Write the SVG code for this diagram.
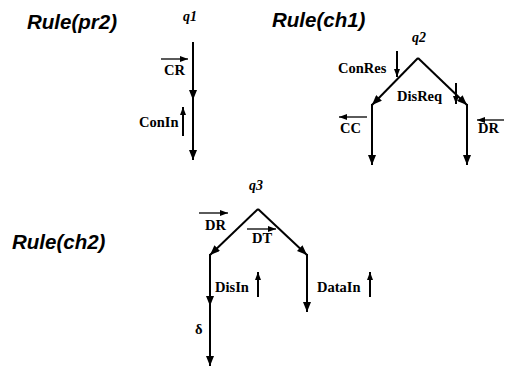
<svg xmlns="http://www.w3.org/2000/svg" width="515" height="372" viewBox="0 0 515 372">
<style>
.title{font-family:"Liberation Sans",Arial,sans-serif;font-style:italic;font-weight:bold;font-size:20.5px;fill:#000}
.q{font-family:"Liberation Serif","Times New Roman",serif;font-style:italic;font-weight:bold;font-size:14px;fill:#000}
.lbl{font-family:"Liberation Serif","Times New Roman",serif;font-weight:bold;font-size:14.5px;fill:#000}
.edge{stroke:#000;stroke-width:2;fill:none}
.ov{stroke:#000;stroke-width:1.3;fill:none}
.up{stroke:#000;stroke-width:2;fill:none}
</style>
<defs>
<marker id="ah" markerUnits="userSpaceOnUse" markerWidth="10" markerHeight="8" refX="10" refY="4" orient="auto">
<path d="M0,0 L10,4 L0,8 z" fill="#000"/>
</marker>
<marker id="sa" markerUnits="userSpaceOnUse" markerWidth="8" markerHeight="6" refX="8" refY="3" orient="auto">
<path d="M0,0 L8,3 L0,6 z" fill="#000"/>
</marker>
</defs>
<g id="rule-pr2"><text class="title" x="27" y="29">Rule(pr2)</text></g>
<g id="rule-ch1"><text class="title" x="272" y="27">Rule(ch1)</text></g>
<g id="rule-ch2"><text class="title" x="12" y="249">Rule(ch2)</text></g>
<g id="q1"><text class="q" x="183" y="21">q1</text></g>
<g id="q2"><text class="q" x="412" y="42">q2</text></g>
<g id="q3"><text class="q" x="249" y="190">q3</text></g>
<g id="labels">
<text class="lbl" x="164" y="75">CR</text>
<text class="lbl" x="139" y="127">ConIn</text>
<text class="lbl" x="338" y="73">ConRes</text>
<text class="lbl" x="397" y="101">DisReq</text>
<text class="lbl" x="340" y="133">CC</text>
<text class="lbl" x="478" y="133">DR</text>
<text class="lbl" x="205" y="230">DR</text>
<text class="lbl" x="252" y="243">DT</text>
<text class="lbl" x="215" y="292">DisIn</text>
<text class="lbl" x="317" y="292">DataIn</text>
<text class="lbl" x="195" y="334">δ</text>
</g>
<g id="connectors">
<path class="edge" d="M193,42 L193,100" marker-end="url(#ah)"/>
<path class="edge" d="M193,98 L193,160" marker-end="url(#ah)"/>
<path class="edge" d="M418,58 L372,105" marker-end="url(#ah)"/>
<path class="edge" d="M372,104 L372,165" marker-end="url(#ah)"/>
<path class="edge" d="M418,58 L467,105" marker-end="url(#ah)"/>
<path class="edge" d="M467,104 L467,165" marker-end="url(#ah)"/>
<path class="edge" d="M258,209 L210,255" marker-end="url(#ah)"/>
<path class="edge" d="M210,254 L210,306" marker-end="url(#ah)"/>
<path class="edge" d="M210,304 L210,366" marker-end="url(#ah)"/>
<path class="edge" d="M258,209 L307,255" marker-end="url(#ah)"/>
<path class="edge" d="M307,254 L307,312" marker-end="url(#ah)"/>
<path class="ov" d="M161,59 L188,59" marker-end="url(#sa)"/>
<path class="up" d="M183,136 L183,107" marker-end="url(#sa)"/>
<path class="up" d="M397,51 L397,77" marker-end="url(#sa)"/>
<path class="up" d="M456,83 L456,104" marker-end="url(#sa)"/>
<path class="ov" d="M367,117 L339,117" marker-end="url(#sa)"/>
<path class="ov" d="M504,120 L477,120" marker-end="url(#sa)"/>
<path class="ov" d="M199,213 L228,213" marker-end="url(#sa)"/>
<path class="ov" d="M247,229 L276,229" marker-end="url(#sa)"/>
<path class="up" d="M258,297 L258,272" marker-end="url(#sa)"/>
<path class="up" d="M370,297 L370,272" marker-end="url(#sa)"/>
</g>
</svg>
